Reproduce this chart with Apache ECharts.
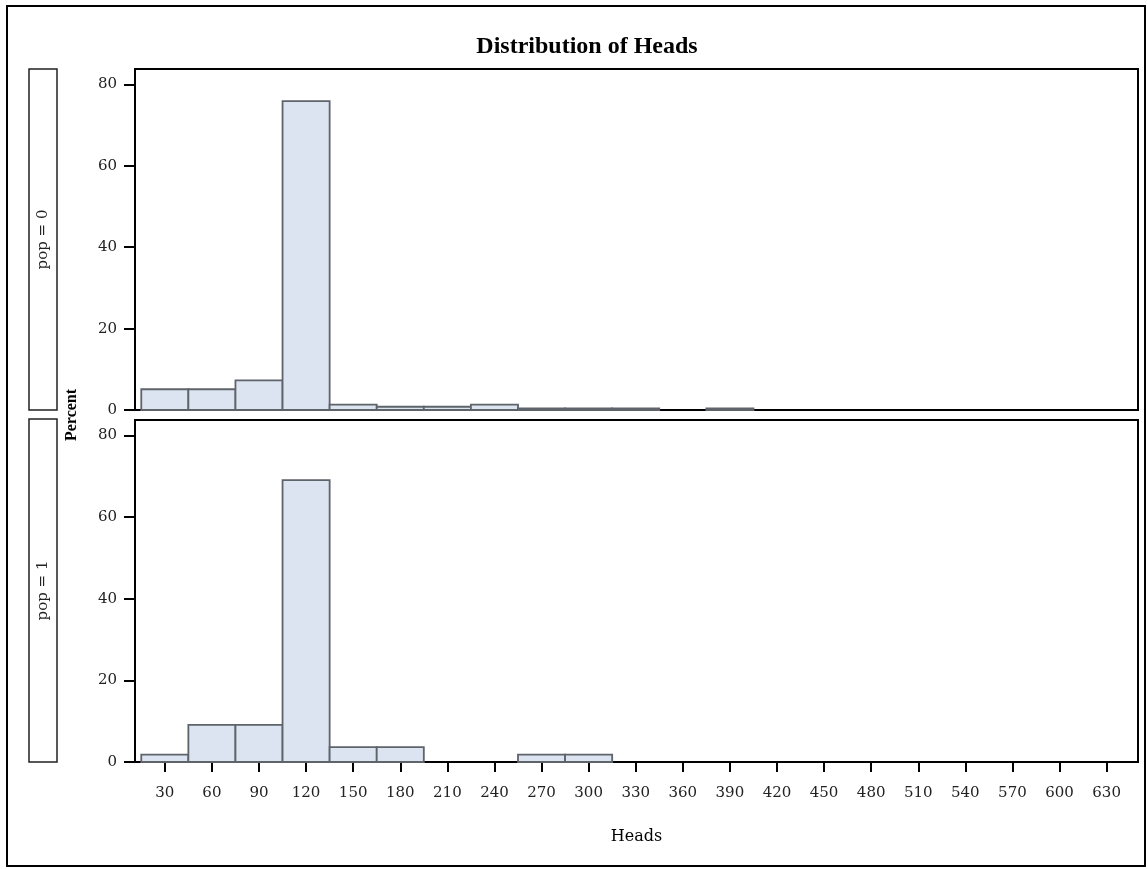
<!DOCTYPE html>
<html>
<head>
<meta charset="utf-8">
<title>Distribution of Heads</title>
<script src="https://cdn.jsdelivr.net/npm/echarts@6/dist/echarts.min.js"></script>
<style>
  html, body { margin: 0; padding: 0; background: #fff; }
  #chart { width: 1148px; height: 869px; }
</style>
</head>
<body>
<div id="chart"></div>
<script>
// Histogram bin midpoints (bin width 30)
const binMids = [30, 60, 90, 120, 150, 180, 210, 240, 270, 300, 330, 360, 390, 420, 450, 480, 510, 540, 570, 600, 630];
const binWidth = 30;

// Percent of observations per bin, one array per panel
const pop0Percent = [5.1, 5.1, 7.3, 75.9, 1.3, 0.8, 0.8, 1.3, 0.4, 0.4, 0.4, 0, 0.4, 0, 0, 0, 0, 0, 0, 0, 0];
const pop1Percent = [1.82, 9.09, 9.09, 69.09, 3.64, 3.64, 0, 0, 1.82, 1.82, 0, 0, 0, 0, 0, 0, 0, 0, 0, 0, 0];

const panelLabels = ['pop = 0', 'pop = 1'];
const xTickValues = binMids;
const yTickValues = [0, 20, 40, 60, 80];

const serif = '"DejaVu Serif", "Liberation Serif", serif';
const titleFont = '"Liberation Serif", "DejaVu Serif", serif';

const barFill = '#dbe4f0';
const barStroke = '#5f636a';

function histSeries(values, idx) {
  return {
    type: 'custom',
    xAxisIndex: idx,
    yAxisIndex: idx,
    data: binMids.map((m, i) => [m, values[i]]).filter(d => d[1] > 0),
    renderItem(params, api) {
      const mid = api.value(0);
      const v = api.value(1);
      const p0 = api.coord([mid - binWidth / 2, v]);
      const p1 = api.coord([mid + binWidth / 2, 0]);
      return {
        type: 'rect',
        shape: { x: p0[0], y: p0[1], width: p1[0] - p0[0], height: p1[1] - p0[1] },
        style: { fill: barFill, stroke: barStroke, lineWidth: 1.8 }
      };
    }
  };
}

function xAxis(idx, showLabels) {
  return {
    type: 'value',
    gridIndex: idx,
    min: 11,
    max: 650,
    axisLine: { show: false },
    splitLine: { show: false },
    axisTick: {
      show: showLabels, customValues: xTickValues, length: 10,
      lineStyle: { color: '#000', width: 2 }
    },
    axisLabel: {
      show: showLabels, customValues: xTickValues, margin: 24,
      fontFamily: serif, fontSize: 15, color: '#222'
    },
    name: showLabels ? 'Heads' : '',
    nameLocation: 'middle',
    nameGap: 67,
    nameTextStyle: { fontFamily: serif, fontSize: 16, color: '#000' }
  };
}

function yAxis(idx) {
  return {
    type: 'value',
    gridIndex: idx,
    min: 0,
    max: 83.8,
    axisLine: { show: false },
    splitLine: { show: false },
    axisTick: {
      show: true, customValues: yTickValues, length: 11,
      lineStyle: { color: '#000', width: 2 }
    },
    axisLabel: {
      customValues: yTickValues, margin: 18,
      fontFamily: serif, fontSize: 15, color: '#222'
    }
  };
}

const stripBoxes = [[69, 341], [419, 343]];

const graphic = [
  // outer frame
  { type: 'rect', shape: { x: 7, y: 6, width: 1138, height: 860 },
    style: { fill: 'none', stroke: '#000', lineWidth: 2 }, silent: true },
  // shared y-axis title
  { type: 'text', x: 72, y: 415, rotation: Math.PI / 2,
    style: { text: 'Percent', fontFamily: titleFont, fontSize: 16, fontWeight: 'bold',
             fill: '#000', align: 'center', verticalAlign: 'middle' } }
];
stripBoxes.forEach(([top, h], i) => {
  graphic.push({ type: 'rect', shape: { x: 29, y: top, width: 28, height: h },
    style: { fill: '#fff', stroke: '#222', lineWidth: 1.5 } });
  graphic.push({ type: 'text', x: 43, y: top + h / 2, rotation: Math.PI / 2,
    style: { text: panelLabels[i], fontFamily: serif, fontSize: 15, fill: '#222',
             align: 'center', verticalAlign: 'middle' } });
});

const chart = echarts.init(document.getElementById('chart'), null, { renderer: 'canvas' });
chart.setOption({
  animation: false,
  backgroundColor: '#fff',
  title: {
    text: 'Distribution of Heads',
    left: 582, top: 30, textAlign: 'center',
    textStyle: { fontFamily: titleFont, fontSize: 24, fontWeight: 'bold', color: '#000' }
  },
  grid: [
    { left: 135, top: 69, width: 1003, height: 341, show: true, borderColor: '#000', borderWidth: 2, backgroundColor: 'transparent' },
    { left: 135, top: 420, width: 1003, height: 342, show: true, borderColor: '#000', borderWidth: 2, backgroundColor: 'transparent' }
  ],
  xAxis: [xAxis(0, false), xAxis(1, true)],
  yAxis: [yAxis(0), yAxis(1)],
  series: [histSeries(pop0Percent, 0), histSeries(pop1Percent, 1)],
  graphic: graphic
});
</script>
</body>
</html>
